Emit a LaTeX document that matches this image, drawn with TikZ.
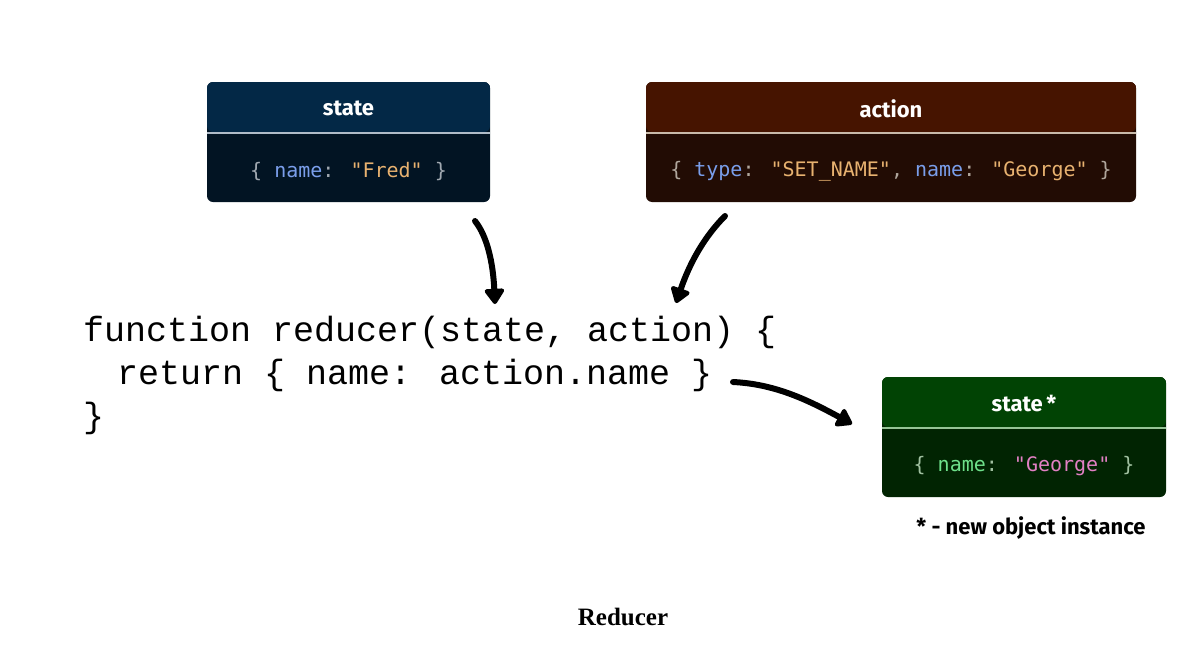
\documentclass[tikz,border=0pt]{standalone}
\usepackage{fontspec}
\setmainfont{Liberation Serif}
\newfontfamily\handfont{Fira Sans}
\newfontfamily\codefont{Liberation Mono}
\newfontfamily\objfont{DejaVu Sans Mono}
\usetikzlibrary{arrows.meta}

\definecolor{stateHead}{RGB}{3,40,70}
\definecolor{stateBody}{RGB}{2,20,35}
\definecolor{stateLine}{RGB}{176,188,200}
\definecolor{actHead}{RGB}{70,20,0}
\definecolor{actBody}{RGB}{34,12,4}
\definecolor{actLine}{RGB}{200,186,170}
\definecolor{newHead}{RGB}{1,67,4}
\definecolor{newBody}{RGB}{1,36,2}
\definecolor{newLine}{RGB}{150,196,150}
\definecolor{keyBlue}{RGB}{122,158,234}
\definecolor{strTan}{RGB}{232,178,112}
\definecolor{braceGray}{RGB}{160,168,176}
\definecolor{braceBeige}{RGB}{176,166,156}
\definecolor{keyGreen}{RGB}{110,224,138}
\definecolor{strPink}{RGB}{226,128,196}
\definecolor{braceGreen}{RGB}{160,192,160}

\tikzset{
  objbox/.style n args={3}{rounded corners=6pt, inner sep=0pt, minimum height=120pt, fill=#2,
    path picture={
      \fill[#1] (path picture bounding box.north west) rectangle ([yshift=-50pt]path picture bounding box.north east);
      \draw[#3, line width=2.5pt] ([yshift=-51pt]path picture bounding box.north west) -- ([yshift=-51pt]path picture bounding box.north east);
    }},
  objtitle/.style={text=white, font=\handfont\bfseries\fontsize{22}{26}\selectfont},
  objtext/.style={font=\objfont\fontsize{20}{24}\selectfont},
  codeline/.style={anchor=base west, inner sep=0pt, font=\codefont\fontsize{35}{42}\selectfont},
  scribble/.style={line width=6pt, line cap=round, -{Triangle[length=17pt, width=22pt, round]}},
}

\begin{document}
\begin{tikzpicture}[x=1pt, y=-1pt]
  \useasboundingbox (0,0) rectangle (1201,656);

  % input state
  \node[objbox={stateHead}{stateBody}{stateLine}, minimum width=283pt] (state) at (348.5,142) {};
  \node[objtitle] (state-title) at ([yshift=-27pt]state.north) {state};
  \node[objtext] (state-text) at ([yshift=31pt]state.south) {{\color{braceGray}\{} {\color{keyBlue}name}{\color{braceGray}:} {\color{strTan}\textquotedbl Fred\textquotedbl} {\color{braceGray}\}}};

  % action
  \node[objbox={actHead}{actBody}{actLine}, minimum width=490pt] (action) at (891,142) {};
  \node[objtitle] (action-title) at ([yshift=-27pt]action.north) {action};
  \node[objtext] (action-text) at ([yshift=31pt]action.south) {{\color{braceBeige}\{} {\color{keyBlue}type}{\color{braceBeige}:} {\color{strTan}\textquotedbl SET\_NAME\textquotedbl}{\color{braceBeige},} {\color{keyBlue}name}{\color{braceBeige}:} {\color{strTan}\textquotedbl George\textquotedbl} {\color{braceBeige}\}}};

  % new state
  \node[objbox={newHead}{newBody}{newLine}, minimum width=284pt] (newstate) at (1024,437) {};
  \node[objtitle] (newstate-title) at ([yshift=-27pt]newstate.north) {state\,*};
  \node[objtext] (newstate-text) at ([yshift=31pt]newstate.south) {{\color{braceGreen}\{} {\color{keyGreen}name}{\color{braceGreen}:} {\color{strPink}\textquotedbl George\textquotedbl} {\color{braceGreen}\}}};
  \node[font=\handfont\bfseries\fontsize{22}{26}\selectfont] (note) at (1031,528) {* - new object instance};

  % reducer code
  \node[codeline] (code1) at (83,341) {function reducer(state, action) \{};
  \node[codeline] (code2) at (83,384) {\hspace{34pt}return \{ name: action.name \}};
  \node[codeline] (code3) at (83,427) {\}};

  % arrows
  \coordinate (a1s) at (475,221);
  \coordinate (a1e) at (495,304);
  \coordinate (a2s) at (725,216);
  \coordinate (a2e) at (676,303);
  \coordinate (a3s) at (733,382);
  \coordinate (a3e) at (852,424);
  \draw[scribble] (a1s) .. controls (487,236) and (493,262) .. (a1e);
  \draw[scribble] (a2s) .. controls (705,236) and (690,262) .. (a2e);
  \draw[scribble] (a3s) .. controls (775,384) and (808,400) .. (a3e);

  \node[font=\bfseries\fontsize{25}{30}\selectfont] (caption) at (623,617) {Reducer};
\end{tikzpicture}
\end{document}
